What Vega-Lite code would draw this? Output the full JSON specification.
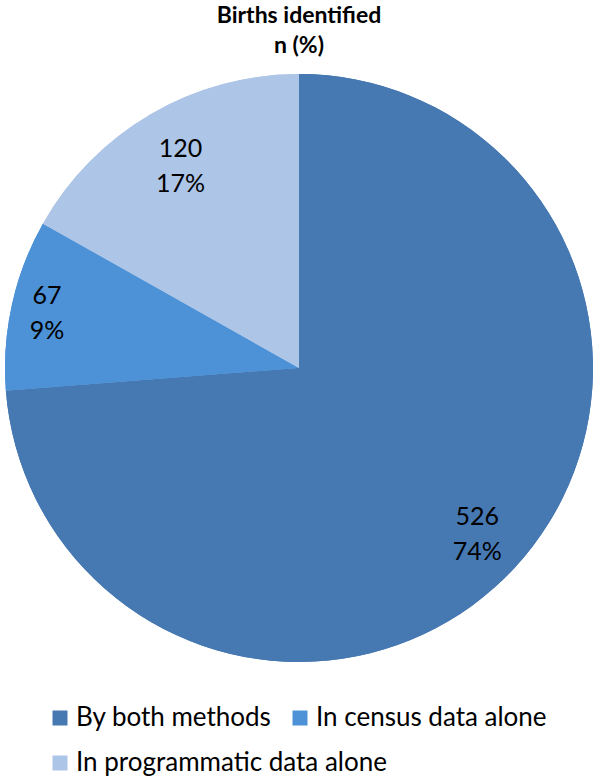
{
  "$schema": "https://vega.github.io/schema/vega-lite/v6.json",
  "autosize": "none",
  "width": 588,
  "height": 588,
  "padding": {"left": 5, "top": 74, "right": 6, "bottom": 114},
  "background": "white",
  "config": {
    "legend": {
      "title": null,
      "orient": "none",
      "direction": "horizontal",
      "symbolType": "square",
      "symbolSize": 225,
      "symbolStrokeWidth": 0,
      "symbolOpacity": 1,
      "labelFont": "Lato",
      "labelFontSize": 26,
      "labelColor": "#000000",
      "labelOffset": 3,
      "labelLimit": 400,
      "columnPadding": 15
    }
  },
  "title": {
    "text": ["Births identified", "n (%)"],
    "font": "Lato",
    "fontSize": 23,
    "fontWeight": "bold",
    "lineHeight": 30,
    "color": "#000000",
    "anchor": "middle",
    "offset": 16
  },
  "data": {
    "values": [
      {"category": "By both methods", "n": 526, "label": "526\n74%"},
      {"category": "In census data alone", "n": 67, "label": "67\n9%"},
      {"category": "In programmatic data alone", "n": 120, "label": "120\n17%"}
    ]
  },
  "encoding": {
    "theta": {"field": "n", "type": "quantitative", "stack": true},
    "order": {"field": "category", "type": "nominal", "sort": "ascending"}
  },
  "layer": [
    {
      "mark": {"type": "arc", "outerRadius": 294, "stroke": null},
      "encoding": {
        "color": {
          "field": "category",
          "type": "nominal",
          "scale": {
            "domain": ["By both methods", "In census data alone", "In programmatic data alone"],
            "range": ["#4678b2", "#4d92d7", "#adc5e6"]
          },
          "legend": {
            "orient": "none",
            "legendX": 42,
            "legendY": 631,
            "direction": "horizontal",
            "values": ["By both methods", "In census data alone"]
          }
        }
      }
    },
    {
      "mark": {"type": "arc", "outerRadius": 294, "stroke": null},
      "encoding": {
        "fill": {
          "field": "category",
          "type": "nominal",
          "scale": {
            "domain": ["In programmatic data alone", "By both methods", "In census data alone"],
            "range": ["#adc5e6", "#4678b2", "#4d92d7"]
          },
          "legend": {
            "orient": "none",
            "legendX": 42,
            "legendY": 676,
            "direction": "horizontal",
            "values": ["In programmatic data alone"]
          }
        }
      }
    },
    {
      "mark": {"type": "text", "radius": 243, "font": "Lato", "fontSize": 25, "lineBreak": "\n", "lineHeight": 35, "align": "center", "baseline": "middle", "dy": -16, "color": "#000000"},
      "encoding": {
        "text": {"field": "label", "type": "nominal", "condition": {"test": "datum.category != 'By both methods'", "value": ""}}
      }
    },
    {
      "mark": {"type": "text", "radius": 258, "font": "Lato", "fontSize": 25, "lineBreak": "\n", "lineHeight": 35, "align": "center", "baseline": "middle", "dy": -16, "color": "#000000"},
      "encoding": {
        "text": {"field": "label", "type": "nominal", "condition": {"test": "datum.category != 'In census data alone'", "value": ""}}
      }
    },
    {
      "mark": {"type": "text", "radius": 235, "font": "Lato", "fontSize": 25, "lineBreak": "\n", "lineHeight": 35, "align": "center", "baseline": "middle", "dy": -16, "color": "#000000"},
      "encoding": {
        "text": {"field": "label", "type": "nominal", "condition": {"test": "datum.category != 'In programmatic data alone'", "value": ""}}
      }
    }
  ]
}
